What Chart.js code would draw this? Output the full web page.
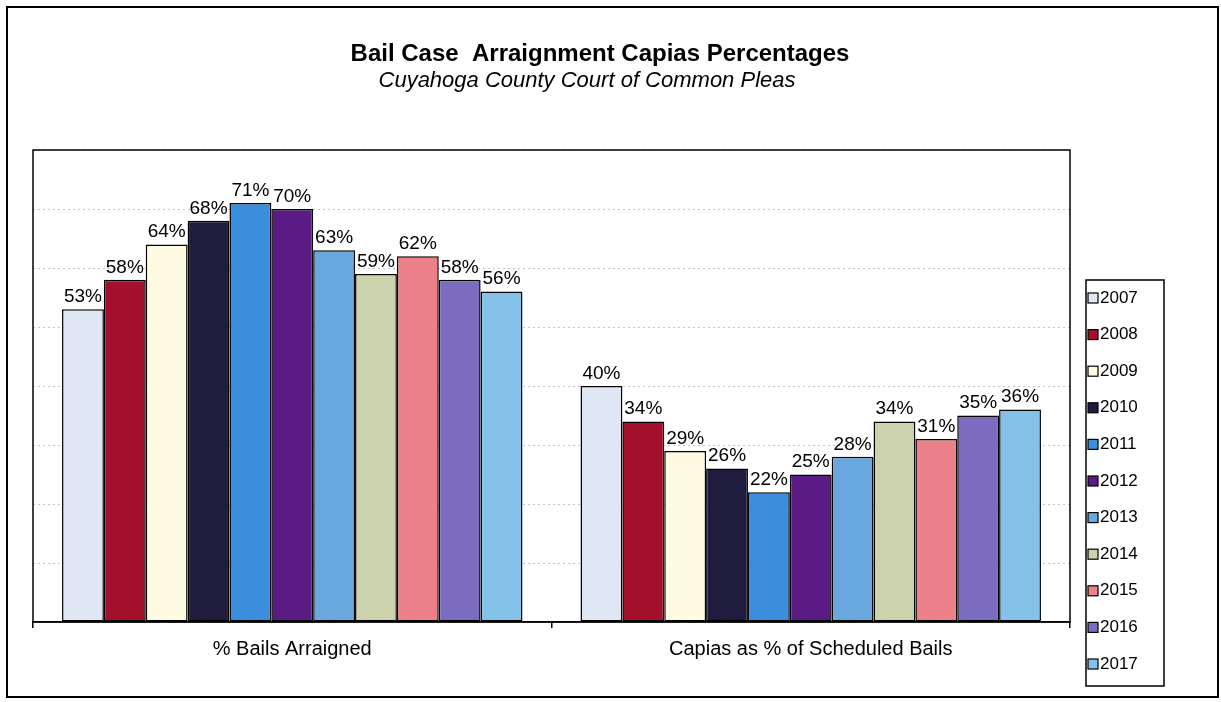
<!DOCTYPE html>
<html><head><meta charset="utf-8">
<script src="https://cdn.jsdelivr.net/npm/chart.js@4/dist/chart.umd.min.js"></script>
<style>html,body{margin:0;padding:0;background:#fff}#wrap{width:1221px;height:702px}</style>
</head><body><div id="wrap"><canvas id="c" width="1221" height="702"></canvas></div>
<script>
const categories = ['% Bails Arraigned', 'Capias as % of Scheduled Bails'];
const years = ['2007','2008','2009','2010','2011','2012','2013','2014','2015','2016','2017'];
const arraigned = [53, 58, 64, 68, 71, 70, 63, 59, 62, 58, 56];
const capias = [40, 34, 29, 26, 22, 25, 28, 34, 31, 35, 36];
const yTicks = [0, 10, 20, 30, 40, 50, 60, 70, 80];
const colors = ['#dfe6f4','#a4102c','#fffbe2','#201c3e','#3a8edb','#5a1c84','#68a8de','#ccd2ac','#ec8088','#7c6cc0','#84c2ea'];
const titleText = 'Bail Case  Arraignment Capias Percentages';
const subtitleText = 'Cuyahoga County Court of Common Pleas';

const FONT = '"Liberation Sans", Arial, sans-serif';

const datasets = years.map((y, i) => ({
  label: y,
  data: [arraigned[i], capias[i]],
  backgroundColor: colors[i],
  borderColor: '#000',
  borderWidth: 1.5,
  borderSkipped: false,
  barPercentage: 1.0,
  categoryPercentage: 0.888
}));

const decor = {
  id: 'decor',
  beforeDraw(chart) {
    const ctx = chart.ctx;
    ctx.save();
    ctx.fillStyle = '#fff';
    ctx.fillRect(0, 0, chart.width, chart.height);
    ctx.restore();
  },
  afterDatasetsDraw(chart) {
    const ctx = chart.ctx;
    ctx.save();
    ctx.font = '19px ' + FONT;
    ctx.fillStyle = '#000';
    ctx.textAlign = 'center';
    ctx.textBaseline = 'bottom';
    chart.data.datasets.forEach((ds, di) => {
      const meta = chart.getDatasetMeta(di);
      meta.data.forEach((el, j) => {
        ctx.fillText(ds.data[j] + '%', el.x, el.y - 3);
      });
    });
    ctx.restore();
  },
  afterDraw(chart) {
    const ctx = chart.ctx;
    const a = chart.chartArea;
    ctx.save();
    ctx.strokeStyle = '#000';
    ctx.lineWidth = 1.5;
    ctx.strokeRect(a.left, a.top, a.right - a.left, a.bottom - a.top);
    ctx.lineWidth = 2;
    ctx.strokeRect(7, 7, 1211, 690);
    ctx.fillStyle = '#000';
    ctx.textAlign = 'center';
    ctx.textBaseline = 'middle';
    ctx.font = 'bold 24px ' + FONT;
    ctx.fillText(titleText, 600, 54);
    ctx.font = 'italic 22px ' + FONT;
    ctx.fillText(subtitleText, 587, 81);
    const lx = 1086, ly = 280, lw = 78, lh = 406;
    ctx.lineWidth = 1.5;
    ctx.strokeRect(lx, ly, lw, lh);
    ctx.textAlign = 'left';
    ctx.font = '17px ' + FONT;
    chart.data.datasets.forEach((ds, i) => {
      const cy = 298 + i * 36.6;
      ctx.fillStyle = ds.backgroundColor;
      ctx.fillRect(1088, cy - 5, 10, 10);
      ctx.lineWidth = 1.2;
      ctx.strokeStyle = '#000';
      ctx.strokeRect(1088, cy - 5, 10, 10);
      ctx.fillStyle = '#000';
      ctx.fillText(ds.label, 1100, cy);
    });
    ctx.restore();
  }
};

new Chart(document.getElementById('c'), {
  type: 'bar',
  data: { labels: categories, datasets },
  options: {
    responsive: false,
    devicePixelRatio: 1,
    animation: false,
    layout: { padding: { left: 33, top: 150, right: 151, bottom: 32 } },
    plugins: { legend: { display: false }, title: { display: false }, tooltip: { enabled: false } },
    scales: {
      x: {
        grid: { offset: true, drawOnChartArea: false, drawTicks: true, tickLength: 6, color: '#000', lineWidth: 1.5 },
        border: { display: true, color: '#000', width: 1.5 },
        ticks: { font: { family: FONT, size: 20 }, color: '#000', padding: 9 }
      },
      y: {
        min: yTicks[0], max: yTicks[yTicks.length - 1],
        afterBuildTicks(scale) { scale.ticks = yTicks.map(v => ({ value: v })); },
        ticks: { display: false },
        grid: { color: '#c4c4c4', lineWidth: 1, drawTicks: false },
        border: { display: false, dash: [2, 3] }
      }
    }
  },
  plugins: [decor]
});
</script>
</body></html>
